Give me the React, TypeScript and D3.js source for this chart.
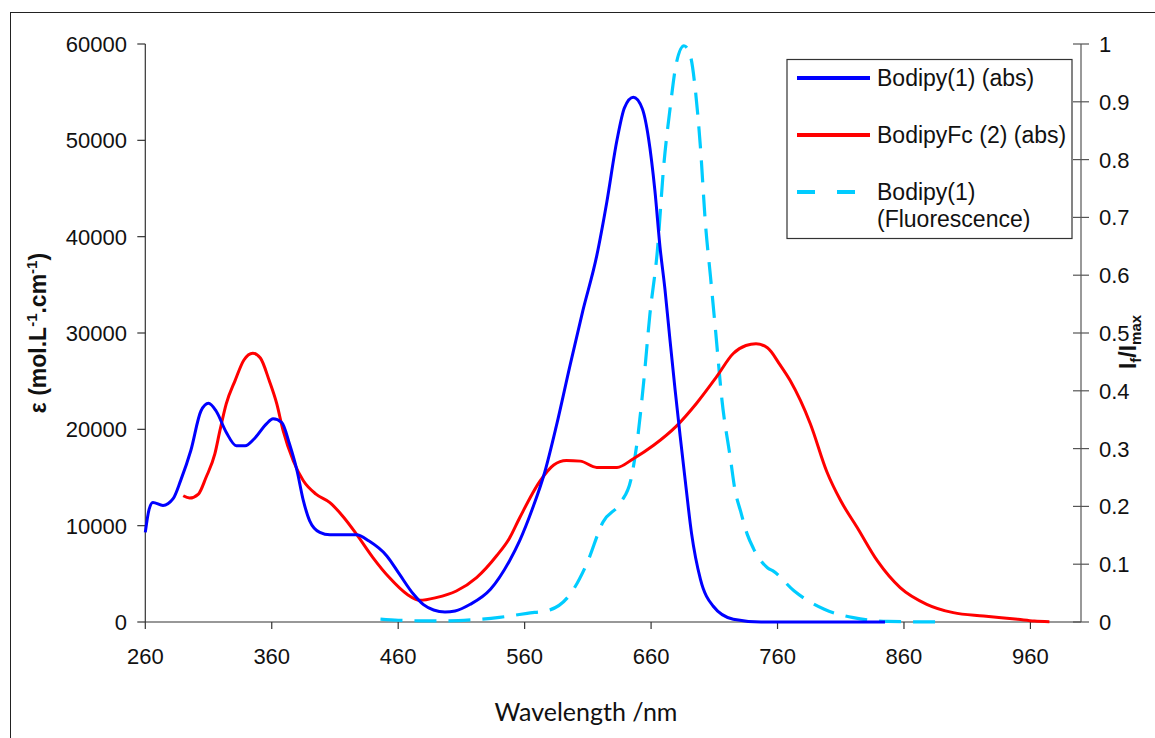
import React from 'react';
import * as d3 from 'd3';

// Bodipy(1) absorption, wavelength (nm) / epsilon
const bodipyNm = [260, 263, 266, 274, 282, 288, 296, 304, 310, 316, 324, 332, 339, 346, 356, 361, 368, 374, 380, 385, 390, 398, 406, 427, 437, 451, 461, 472, 480, 488, 497, 505, 517, 533, 548, 556, 566, 576, 585, 596, 606, 617, 625, 633, 639, 646, 653, 658, 663, 667, 671, 675, 679, 683, 687, 692, 699, 709, 725, 747, 845];
const bodipyAbs = [9300, 11700, 12400, 12100, 12800, 14700, 17800, 21900, 22700, 21900, 19700, 18300, 18300, 19000, 20600, 21100, 20700, 18500, 15700, 12600, 10500, 9300, 9050, 9050, 8400, 6860, 4960, 2900, 1800, 1250, 1050, 1150, 1840, 3400, 6340, 8420, 11700, 15600, 20300, 26700, 32300, 38000, 43600, 50000, 53400, 54460, 53300, 50200, 44800, 39000, 34500, 29200, 24100, 19300, 14700, 9200, 4450, 1660, 290, 0, 0];

// BodipyFc(2) absorption
const fcNm = [290, 295, 302, 308, 315, 319, 324, 331, 338, 345, 351, 358, 364, 369, 377, 385, 395, 406, 417, 427, 440, 453, 467, 477, 490, 506, 522, 538, 548, 556, 572, 583, 593, 604, 617, 633, 646, 662, 680, 696, 712, 725, 735, 743, 752, 762, 770, 786, 799, 810, 823, 839, 857, 878, 899, 923, 950, 963, 975];
const fcAbs = [13100, 12860, 13280, 15000, 17440, 19860, 22640, 25060, 27200, 27900, 27400, 25060, 22640, 19860, 16740, 14660, 13280, 12400, 10850, 9120, 6690, 4610, 2880, 2250, 2530, 3220, 4610, 6900, 8700, 10800, 14600, 16300, 16760, 16700, 16050, 16050, 16950, 18340, 20330, 22710, 25490, 27870, 28700, 28880, 28460, 26690, 25060, 20560, 15600, 12580, 9810, 6340, 3570, 1840, 970, 620, 280, 100, 30];

// Bodipy(1) fluorescence, If/Imax
const fluoNm = [446, 460, 480, 500, 520, 540, 562, 580, 596, 609, 622, 636, 644, 649, 654, 659, 665, 670, 675, 680, 686, 691, 695, 699, 703, 707, 711, 716, 723, 726, 731, 736, 741, 752, 757, 773, 797, 820, 847, 893];
const fluoRel = [0.005, 0.003, 0.002, 0.002, 0.004, 0.008, 0.015, 0.021, 0.048, 0.1, 0.173, 0.207, 0.246, 0.312, 0.412, 0.531, 0.643, 0.789, 0.888, 0.967, 0.997, 0.98, 0.921, 0.822, 0.689, 0.597, 0.504, 0.385, 0.279, 0.233, 0.19, 0.152, 0.127, 0.094, 0.0875, 0.054, 0.022, 0.0075, 0.001, 0];

const xTicks = [260, 360, 460, 560, 660, 760, 860, 960];
const yTicks = [0, 10000, 20000, 30000, 40000, 50000, 60000];
const y2Ticks = [0, 0.1, 0.2, 0.3, 0.4, 0.5, 0.6, 0.7, 0.8, 0.9, 1];

const legendItems = [
  { label: ['Bodipy(1) (abs)'], color: '#0000ff', dash: null },
  { label: ['BodipyFc (2) (abs)'], color: '#ff0000', dash: null },
  { label: ['Bodipy(1)', '(Fluorescence)'], color: '#00ccff', dash: '18,22' },
];

const W = 1155;
const H = 738;
const left = 145.3, right = 1081, top = 44, bottom = 622;
const font = 'Arial, "Liberation Sans", sans-serif';

export default function App() {
  const x = d3.scaleLinear().domain([260, 1000]).range([left, right]);
  const y = d3.scaleLinear().domain([0, 60000]).range([bottom, top]);
  const y2 = d3.scaleLinear().domain([0, 1]).range([bottom, top]);

  const line = d3.line<[number, number]>().curve(d3.curveMonotoneX);
  const blue = line(bodipyNm.map((n, i) => [x(n), y(bodipyAbs[i])]));
  const red = line(fcNm.map((n, i) => [x(n), y(fcAbs[i])]));
  const cyan = line(fluoNm.map((n, i) => [x(n), y2(fluoRel[i])]));

  return (
    <svg width={W} height={H} style={{ position: 'absolute', left: 0, top: 0, background: '#fff' }}>
      <rect x={10.5} y={12.5} width={W + 20} height={H + 20} fill="#fff" stroke="#222" strokeWidth={1} />

      {/* axes */}
      <g stroke="#333" strokeWidth={1.2}>
        <line x1={left} x2={left} y1={top} y2={bottom} />
        <line x1={left} x2={right} y1={bottom} y2={bottom} />
        {yTicks.map(t => <line key={t} x1={left - 8} x2={left} y1={y(t)} y2={y(t)} />)}
        {xTicks.map(t => <line key={t} x1={x(t)} x2={x(t)} y1={bottom} y2={bottom + 7} />)}
      </g>
      <g stroke="#555" strokeWidth={1.2}>
        <line x1={right} x2={right} y1={top} y2={bottom} />
        {y2Ticks.map(t => <line key={t} x1={right - 8} x2={right + 8} y1={y2(t)} y2={y2(t)} />)}
      </g>

      <g fontFamily={font} fontSize={22} fill="#111">
        {yTicks.map(t => (
          <text key={t} x={127} y={y(t)} dy="0.36em" textAnchor="end">{t}</text>
        ))}
        {y2Ticks.map(t => (
          <text key={t} x={1099} y={y2(t)} dy="0.36em">{t}</text>
        ))}
        {xTicks.map(t => (
          <text key={t} x={x(t)} y={656} dy="0.36em" textAnchor="middle">{t}</text>
        ))}
      </g>

      {/* axis titles */}
      <text transform="translate(46,333) rotate(-90)" textAnchor="middle" fontFamily={font} fontSize={23} fontWeight="bold" fill="#111">
        ε (mol.L<tspan fontSize={15} dy={-9}>-1</tspan><tspan dy={9}>.cm</tspan><tspan fontSize={15} dy={-9}>-1</tspan><tspan dy={9}>)</tspan>
      </text>
      <text transform="translate(1136,342) rotate(-90)" textAnchor="middle" fontFamily={font} fontSize={23} fontWeight="bold" fill="#111">
        I<tspan fontSize={15} dy={5}>f</tspan><tspan dy={-5}>/I</tspan><tspan fontSize={15} dy={5}>max</tspan>
      </text>
      <text x={586} y={712} dy="0.36em" textAnchor="middle" fontFamily='Lato, "Open Sans", sans-serif' fontSize={25} fill="#111">Wavelength /nm</text>

      {/* curves */}
      <path d={cyan || ''} fill="none" stroke="#00ccff" strokeWidth={3.2} strokeDasharray="22,12" />
      <path d={red || ''} fill="none" stroke="#ff0000" strokeWidth={3} />
      <path d={blue || ''} fill="none" stroke="#0000ff" strokeWidth={3} />

      {/* legend */}
      <rect x={787} y={59.5} width={285} height={179} fill="#fff" stroke="#333" strokeWidth={1.2} />
      {legendItems.map((item, i) => {
        const cy = [78, 135, 192][i];
        return (
          <g key={i}>
            <line x1={797} x2={870} y1={cy} y2={cy} stroke={item.color} strokeWidth={4} strokeDasharray={item.dash || undefined} />
            {item.label.map((l, j) => (
              <text key={j} x={877} y={cy + j * 27} dy="0.36em" fontFamily={font} fontSize={23} fill="#111">{l}</text>
            ))}
          </g>
        );
      })}
    </svg>
  );
}
